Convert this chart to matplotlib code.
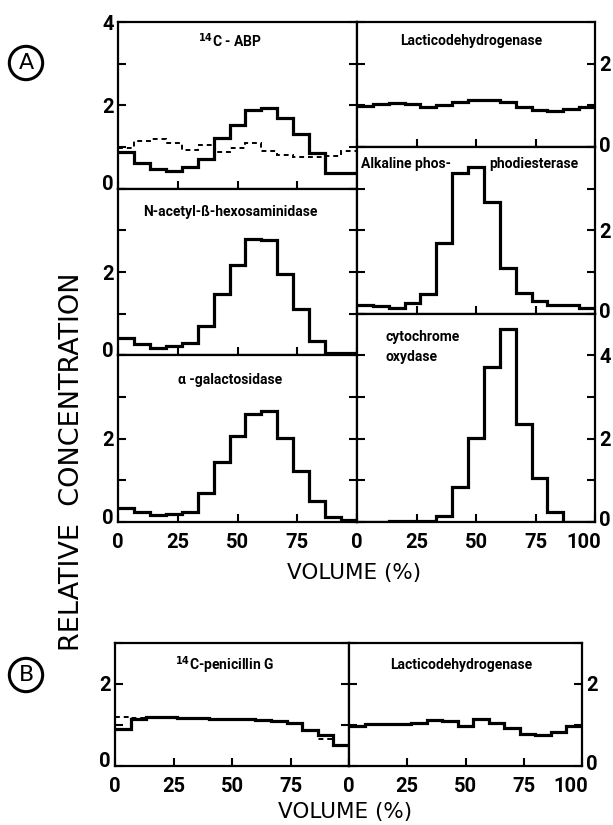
from matplotlib import pyplot as plt
from matplotlib.transforms import ScaledTranslation

plt.rcParams['font.family'] = ['Roboto', 'DejaVu Sans']

# fraction boundaries (% of elution volume), 15 fractions
fraction_edges = [0, 6.67, 13.33, 20, 26.67, 33.33, 40, 46.67, 53.33, 60,
                  66.67, 73.33, 80, 86.67, 93.33, 100]

# panel A, left column
abp = [0.88, 0.62, 0.48, 0.42, 0.53, 0.72, 1.21, 1.54, 1.90, 1.94, 1.69, 1.32, 0.86, 0.37, 0.37]
abp_control = [0.98, 1.14, 1.20, 1.10, 0.94, 1.05, 0.89, 0.98, 1.09, 0.90, 0.82, 0.77, 0.77, 0.78, 0.90]
hexosaminidase = [0.42, 0.26, 0.18, 0.22, 0.30, 0.70, 1.46, 2.16, 2.80, 2.77, 1.96, 1.10, 0.34, 0.06, 0.06]
galactosidase = [0.33, 0.24, 0.16, 0.20, 0.24, 0.69, 1.44, 2.06, 2.60, 2.66, 2.02, 1.23, 0.51, 0.12, 0.04]

# panel A, right column
ldh_a = [0.98, 1.04, 1.06, 1.04, 0.96, 1.00, 1.08, 1.12, 1.12, 1.08, 0.96, 0.90, 0.86, 0.92, 0.96]
phosphodiesterase = [0.20, 0.18, 0.14, 0.26, 0.48, 1.70, 3.37, 3.51, 2.69, 1.10, 0.50, 0.30, 0.22, 0.20, 0.14]
cytochrome = [0.0, 0.0, 0.02, 0.02, 0.02, 0.14, 0.84, 2.02, 3.72, 4.63, 2.36, 1.05, 0.25, 0.0, 0.0]

# panel B
penicillin = [0.90, 1.14, 1.18, 1.18, 1.17, 1.16, 1.15, 1.14, 1.13, 1.12, 1.10, 1.04, 0.86, 0.74, 0.50]
penicillin_control = [1.20, 1.16, 1.18, 1.18, 1.17, 1.16, 1.15, 1.14, 1.12, 1.10, 1.08, 1.02, 0.84, 0.64, 0.50]
ldh_b = [0.96, 1.02, 1.02, 1.02, 1.04, 1.12, 1.08, 0.98, 1.13, 1.05, 0.92, 0.78, 0.76, 0.81, 0.98]

volume_ticks = [0, 25, 50, 75, 100]

W, H = 613, 825
fig = plt.figure(figsize=(W / 100, H / 100), dpi=100)


def add_panel(x0, y0, x1, y1, ymax, ylabels, side, xlabels=None):
    # box given in pixels from the top-left corner
    ax = fig.add_axes([x0 / W, 1 - y1 / H, (x1 - x0) / W, (y1 - y0) / H])
    ax.set_xlim(0, 100)
    ax.set_ylim(0, ymax)
    ax.set_xticks(volume_ticks)
    ax.set_yticks(range(ymax + 1))
    ax.set_yticklabels([str(v) if v in ylabels else '' for v in range(ymax + 1)])
    if xlabels is None:
        ax.set_xticklabels([''] * len(volume_ticks))
    else:
        ax.set_xticklabels(xlabels)
    ax.tick_params(direction='in', length=6, width=1.5, labelsize=14.5, pad=3,
                   left=True, right=True, top=False, bottom=True,
                   labelleft=(side == 'left'), labelright=(side == 'right'))
    ax.tick_params(axis='x', pad=8)
    for lab in ax.get_xticklabels() + ax.get_yticklabels():
        lab.set_fontweight('bold')
    for sp in ax.spines.values():
        sp.set_linewidth(1.6)
    # nudge the "0" labels up off the panel boundary
    shift = 6 if side == 'left' else 3
    for tick in ax.yaxis.get_major_ticks():
        if tick.label1.get_text() == '0' or tick.label2.get_text() == '0':
            off = ScaledTranslation(0, shift / 100, fig.dpi_scale_trans)
            tick.label1.set_transform(tick.label1.get_transform() + off)
            tick.label2.set_transform(tick.label2.get_transform() + off)
    if xlabels is not None and xlabels[-1] == '100':
        tick = ax.xaxis.get_major_ticks()[-1]
        off = ScaledTranslation(-11 / 100, 0, fig.dpi_scale_trans)
        tick.label1.set_transform(tick.label1.get_transform() + off)
    return ax


def draw(ax, values, dashed=False):
    if dashed:
        ax.stairs(values, fraction_edges, baseline=None, color='black',
                  linewidth=1.4, linestyle=(0, (2.5, 2)))
    else:
        ax.stairs(values, fraction_edges, baseline=None, color='black', linewidth=2.3)


title_kw = dict(fontsize=10, fontweight='bold', ha='center', va='center')

# ---- panel A left column
ax = add_panel(118, 22, 357, 188.7, 4, [0, 2, 4], 'left')
draw(ax, abp_control, dashed=True)
draw(ax, abp)
ax.text(0.47, 0.885, r'$^{\mathbf{14}}$C - ABP', transform=ax.transAxes, **title_kw)

ax = add_panel(118, 188.7, 357, 355.3, 4, [0, 2], 'left')
draw(ax, hexosaminidase)
ax.text(0.47, 0.86, 'N-acetyl-ß-hexosaminidase', transform=ax.transAxes, **title_kw)

ax = add_panel(118, 355.3, 357, 522, 4, [0, 2], 'left', ['0', '25', '50', '75', ''])
draw(ax, galactosidase)
ax.text(0.47, 0.85, 'α -galactosidase', transform=ax.transAxes, **title_kw)

# ---- panel A right column
ax = add_panel(357, 22, 595, 147, 3, [0, 2], 'right')
draw(ax, ldh_a)
ax.text(0.48, 0.85, 'Lacticodehydrogenase', transform=ax.transAxes, **title_kw)

ax = add_panel(357, 147, 595, 313.7, 4, [0, 2], 'right')
draw(ax, phosphodiesterase)
ax.text(0.205, 0.90, 'Alkaline phos-', transform=ax.transAxes, **title_kw)
ax.text(0.745, 0.90, 'phodiesterase', transform=ax.transAxes, **title_kw)

ax = add_panel(357, 313.7, 595, 522, 5, [0, 2, 4], 'right', ['0', '25', '50', '75', '100'])
draw(ax, cytochrome)
ax.text(0.12, 0.84, 'cytochrome\noxydase', transform=ax.transAxes, fontsize=10,
        fontweight='bold', ha='left', va='center', linespacing=1.6)

# ---- panel B
ax = add_panel(115, 642.7, 349, 765.7, 3, [0, 2], 'left', ['0', '25', '50', '75', ''])
draw(ax, penicillin_control, dashed=True)
draw(ax, penicillin)
ax.text(0.47, 0.82, r'$^{\mathbf{14}}$C-penicillin G', transform=ax.transAxes, **title_kw)

ax = add_panel(349, 642.7, 582, 765.7, 3, [0, 2], 'right', ['0', '25', '50', '75', '100'])
draw(ax, ldh_b)
ax.text(0.48, 0.82, 'Lacticodehydrogenase', transform=ax.transAxes, **title_kw)

# ---- shared labels
circle = dict(boxstyle='circle,pad=0.3', facecolor='white', edgecolor='black', linewidth=2.2)
fig.text(26 / W, 1 - 63 / H, 'A', fontsize=16, ha='center', va='center',
         family=['DejaVu Sans'], bbox=circle)
fig.text(26 / W, 1 - 675 / H, 'B', fontsize=16, ha='center', va='center',
         family=['DejaVu Sans'], bbox=circle)

fig.text(72 / W, 1 - 462 / H, 'RELATIVE  CONCENTRATION', rotation=90, fontsize=19.5,
         ha='center', va='center', family=['DejaVu Sans'])
fig.text(354 / W, 1 - 573 / H, 'VOLUME (%)', fontsize=15.5, ha='center', va='center',
         family=['DejaVu Sans'])
fig.text(345 / W, 1 - 812 / H, 'VOLUME (%)', fontsize=15.5, ha='center', va='center',
         family=['DejaVu Sans'])

fig.savefig('out.png', dpi=100)
